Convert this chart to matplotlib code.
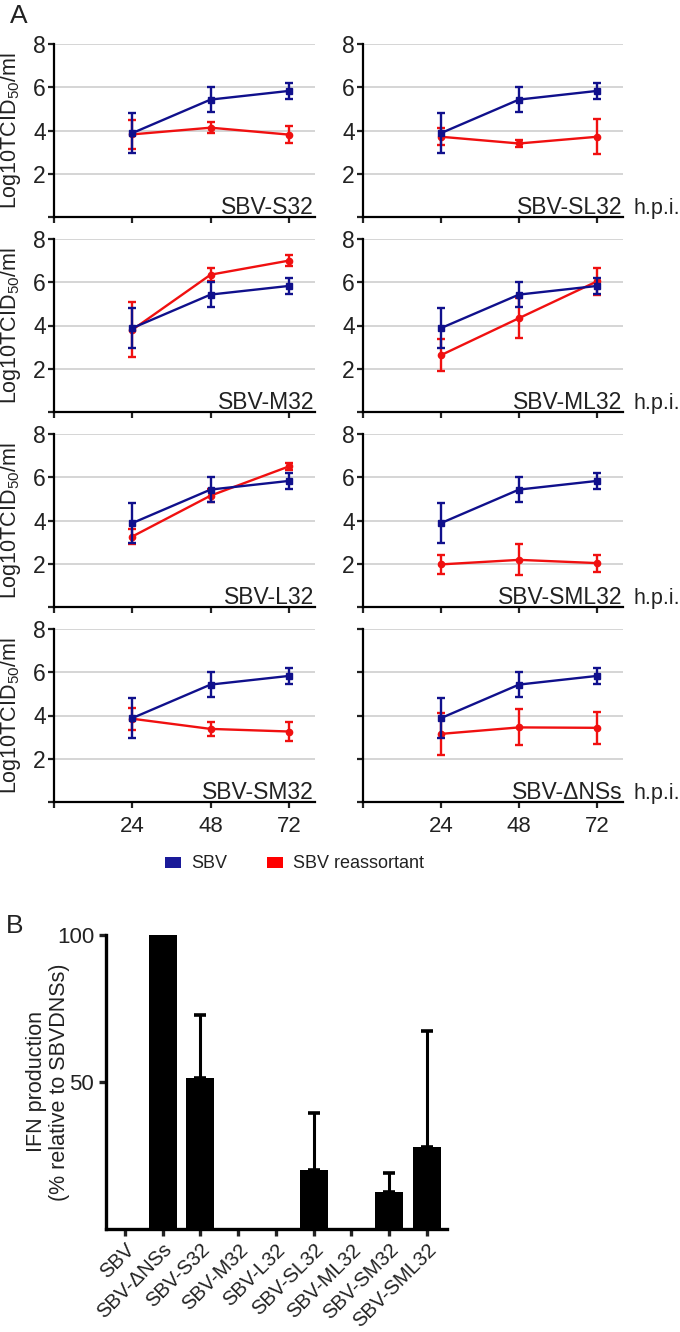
import matplotlib
matplotlib.use('Agg')
import matplotlib.pyplot as plt
from matplotlib.patches import Patch
import numpy as np

plt.rcParams['font.family'] = ['Liberation Sans', 'DejaVu Sans']
plt.rcParams['mathtext.fontset'] = 'custom'
plt.rcParams['mathtext.rm'] = 'Liberation Sans'
plt.rcParams['mathtext.it'] = 'Liberation Sans:italic'

# ---------------- data ----------------
hpi = [24, 48, 72]
sbv_mean = [3.88, 5.43, 5.83]
sbv_sd = [0.94, 0.58, 0.36]

panel_names = ['SBV-S32', 'SBV-SL32', 'SBV-M32', 'SBV-ML32',
               'SBV-L32', 'SBV-SML32', 'SBV-SM32', 'SBV-ΔNSs']
reassortant_mean = [
    [3.82, 4.13, 3.81],
    [3.71, 3.40, 3.71],
    [3.80, 6.35, 7.00],
    [2.63, 4.34, 6.04],
    [3.26, 5.15, 6.50],
    [1.97, 2.18, 2.03],
    [3.85, 3.38, 3.26],
    [3.15, 3.45, 3.43],
]
reassortant_sd = [
    [0.66, 0.24, 0.38],
    [0.40, 0.15, 0.80],
    [1.27, 0.31, 0.25],
    [0.74, 0.93, 0.64],
    [0.34, 0.30, 0.15],
    [0.44, 0.72, 0.39],
    [0.50, 0.34, 0.46],
    [0.96, 0.83, 0.73],
]

bar_labels = ['SBV', 'SBV-ΔNSs', 'SBV-S32', 'SBV-M32', 'SBV-L32',
              'SBV-SL32', 'SBV-ML32', 'SBV-SM32', 'SBV-SML32']
ifn_values = [0, 100, 51.5, 0, 0, 20, 0, 12.5, 28]
ifn_err = [0, 0, 21.3, 0, 0, 19.5, 0, 6.5, 39.3]

# ---------------- style ----------------
BLUE = '#10108c'
RED = '#f01010'
TXT = '#222222'
W, H = 680, 1332

fig = plt.figure(figsize=(W / 100, H / 100), dpi=100)


def rect(x0, x1, ytop, ybot):
    return [x0 / W, 1 - ybot / H, (x1 - x0) / W, (ybot - ytop) / H]


col_x = [(54, 315), (363, 623)]
row_top = [44, 239, 434, 629]
row_h = 173

for i, name in enumerate(panel_names):
    r, c = divmod(i, 2)
    x0, x1 = col_x[c]
    ax = fig.add_axes(rect(x0, x1, row_top[r], row_top[r] + row_h))
    ax.set_xlim(0, 80)
    ax.set_ylim(0, 8)
    ax.spines['top'].set_visible(False)
    ax.spines['right'].set_visible(False)
    for s in ('left', 'bottom'):
        ax.spines[s].set_linewidth(1.6)
    ax.set_yticks([0, 2, 4, 6, 8])
    ax.set_xticks([0, 24, 48, 72])
    ax.yaxis.grid(True, color='#d2d2d2', lw=1.3)
    ax.set_axisbelow(True)
    ax.tick_params(axis='both', length=4, width=1.6, labelsize=16.5,
                   colors=TXT, pad=2)
    ax.tick_params(axis='x', pad=6, labelsize=16)
    if name == 'SBV-ΔNSs':
        ax.set_yticklabels([''] * 5)
    else:
        ax.set_yticklabels(['', '2', '4', '6', '8'])
    if r == 3:
        ax.set_xticklabels(['', '24', '48', '72'])
    else:
        ax.set_xticklabels([''] * 4)

    ax.errorbar(hpi, reassortant_mean[i], yerr=reassortant_sd[i], color=RED,
                lw=1.7, marker='o', ms=4.5, capsize=2.6, capthick=1.7,
                elinewidth=1.7, zorder=3)
    ax.errorbar(hpi, sbv_mean, yerr=sbv_sd, color=BLUE, lw=1.7, marker='s',
                ms=5, capsize=2.6, capthick=1.7, elinewidth=1.7, zorder=4)

    ax.text(0.997, 0.02, name, transform=ax.transAxes, ha='right',
            va='baseline', fontsize=16.5, color=TXT)
    if c == 0:
        ax.set_ylabel('Log10TCID$_{\\mathrm{50}}$/ml', fontsize=15.5,
                      color=TXT)
        ax.yaxis.set_label_coords(-0.118, 0.5)
    else:
        ax.text(1.04, 0.02, 'h.p.i.', transform=ax.transAxes, ha='left',
                va='baseline', fontsize=15.5, color=TXT)

fig.text(10 / W, 1 - 16 / H, 'A', fontsize=19, va='center', ha='left',
         color=TXT)
fig.text(6 / W, 1 - 926 / H, 'B', fontsize=19, va='center', ha='left',
         color=TXT)

fig.legend(handles=[Patch(facecolor='#1a1a99'), Patch(facecolor='#ff0000')],
           labels=['SBV', 'SBV reassortant'], ncol=2, frameon=False,
           loc='center', bbox_to_anchor=(0.433, 1 - 864 / H),
           handlelength=0.9, handleheight=0.55, handletextpad=0.55,
           columnspacing=2.2, fontsize=13, labelcolor=TXT)

# ---------------- panel B ----------------
bx = fig.add_axes(rect(106, 447, 935, 1229))
x = np.arange(len(bar_labels))
bx.bar(x, ifn_values, width=0.74, color='black', zorder=2)
err = np.array(ifn_err)
mask = err > 0
bx.errorbar(x[mask], np.array(ifn_values)[mask],
            yerr=[np.zeros(mask.sum()), err[mask]], fmt='none', ecolor='black',
            elinewidth=2.2, capsize=4.5, capthick=2.6, zorder=1)
bx.set_xlim(-0.5, 8.53)
bx.set_ylim(0, 100)
bx.spines['top'].set_visible(False)
bx.spines['right'].set_visible(False)
for s in ('left', 'bottom'):
    bx.spines[s].set_linewidth(2.4)
bx.set_yticks([50, 100])
bx.set_yticklabels(['50', '100'])
bx.set_xticks(x)
bx.set_xticklabels(bar_labels, rotation=45, ha='right',
                   rotation_mode='anchor')
bx.tick_params(axis='both', width=2.4, length=5, labelsize=14.5,
               colors=TXT)
bx.tick_params(axis='y', labelsize=16)
bx.tick_params(axis='x', pad=3)
bx.set_ylabel('IFN production\n(% relative to SBVDNSs)', fontsize=15.5,
              color=TXT, linespacing=1.15)
bx.yaxis.set_label_coords(-0.105, 0.5)

fig.savefig('out.png', dpi=100)
